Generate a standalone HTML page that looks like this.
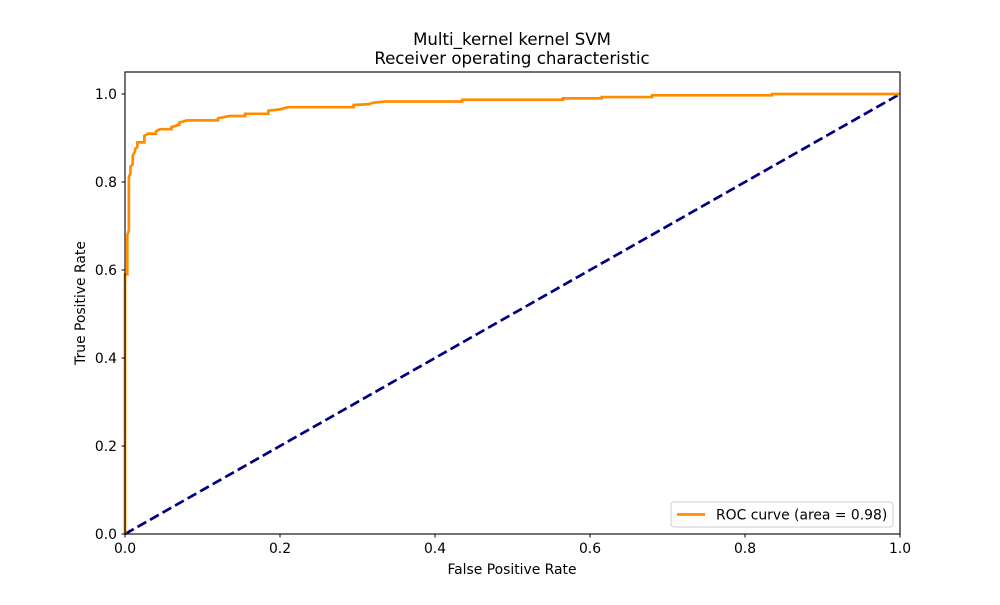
<!DOCTYPE html>
<html><head><meta charset="utf-8"><style>
body{margin:0;background:#fff}
svg text{font-family:"DejaVu Sans","Liberation Sans",sans-serif;fill:#000}
</style></head><body>
<svg id="chart" width="1000" height="600">
<rect width="1000" height="600" fill="#fff"/>
<text x="512" y="45" font-size="16.6" text-anchor="middle">Multi_kernel kernel SVM</text>
<text x="512" y="64" font-size="16.6" text-anchor="middle">Receiver operating characteristic</text>
<g id="plot"></g>
<rect x="125" y="72" width="775" height="462" fill="none" stroke="#000" stroke-width="1.1"/>
<text x="512" y="574" font-size="13.9" text-anchor="middle">False Positive Rate</text>
<text transform="translate(85,303) rotate(-90)" font-size="13.9" text-anchor="middle">True Positive Rate</text>
<g>
<rect x="671" y="502" width="222" height="25" rx="3" fill="#fff" stroke="#ccc"/>
<line x1="677" y1="514.5" x2="705" y2="514.5" stroke="#ff8c00" stroke-width="2.7"/>
<text x="716" y="519.5" font-size="13.9">ROC curve (area = 0.98)</text>
</g>
</svg>
<script>
const fpr=[0,0,0.003,0.003,0.005,0.005,0.007,0.007,0.01,0.01,0.013,0.013,0.016,0.016,0.025,0.025,0.03,0.04,0.04,0.045,0.06,0.06,0.07,0.07,0.08,0.12,0.12,0.135,0.155,0.155,0.185,0.185,0.2,0.21,0.295,0.295,0.315,0.32,0.335,0.435,0.435,0.565,0.565,0.615,0.615,0.68,0.68,0.835,0.835,1];
const tpr=[0,0.59,0.59,0.68,0.69,0.81,0.82,0.835,0.84,0.86,0.87,0.875,0.88,0.89,0.89,0.905,0.91,0.91,0.915,0.92,0.92,0.925,0.93,0.935,0.94,0.94,0.945,0.95,0.95,0.955,0.955,0.962,0.965,0.97,0.97,0.975,0.977,0.98,0.983,0.983,0.987,0.987,0.99,0.99,0.993,0.993,0.997,0.997,1,1];
const diagX=[0,1];
const diagY=[0,1];
const xTicks=[0,0.2,0.4,0.6,0.8,1.0];
const yTicks=[0,0.2,0.4,0.6,0.8,1.0];
const X=v=>125+v*775, Y=v=>534-v*440;
const NS="http://www.w3.org/2000/svg";
const g=document.getElementById('plot');
function mk(t,a){const e=document.createElementNS(NS,t);for(const k in a)e.setAttribute(k,a[k]);g.appendChild(e);return e;}
const d=mk('polyline',{points:diagX.map((x,i)=>X(x)+','+Y(diagY[i])).join(' '),fill:'none',stroke:'#000080','stroke-width':2.7,'stroke-dasharray':'10,4.4'});


const c=mk('polyline',{points:fpr.map((x,i)=>X(x)+','+Y(tpr[i])).join(' '),fill:'none',stroke:'#ff8c00','stroke-width':2.7});


xTicks.forEach(v=>{
 const l=mk('line',{x1:X(v),x2:X(v),y1:534,y2:537.5,stroke:'#000'});
 
 
 const t=mk('text',{x:X(v),y:553,'font-size':13.9,'text-anchor':'middle'});t.textContent=v.toFixed(1);
 
 
});
yTicks.forEach(v=>{
 const l=mk('line',{x1:121.5,x2:125,y1:Y(v),y2:Y(v),stroke:'#000'});
 
 
 const t=mk('text',{x:117,y:Y(v)+5,'font-size':13.9,'text-anchor':'end'});t.textContent=v.toFixed(1);
 
 
});
</script>
</body></html>
